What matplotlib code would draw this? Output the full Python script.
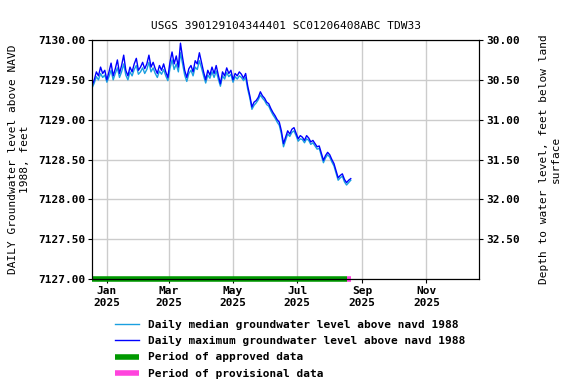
import numpy as np
import pandas as pd
import matplotlib
matplotlib.use("Agg")
import matplotlib.pyplot as plt
import matplotlib.dates as mdates

# data, every 2 days from 2024-12-18
start_date = "2024-12-18"
level_max = [
    7129.43, 7129.50, 7129.60, 7129.55, 7129.66, 7129.58, 7129.62, 7129.50,
    7129.60, 7129.71, 7129.55, 7129.64, 7129.75, 7129.58, 7129.68, 7129.81,
    7129.62, 7129.55, 7129.66, 7129.60, 7129.70, 7129.77, 7129.62, 7129.66,
    7129.72, 7129.64, 7129.70, 7129.81, 7129.66, 7129.72, 7129.64, 7129.58,
    7129.68, 7129.62, 7129.70, 7129.60, 7129.53, 7129.72, 7129.85, 7129.70,
    7129.80, 7129.66, 7129.96, 7129.78, 7129.62, 7129.53, 7129.64, 7129.68,
    7129.60, 7129.74, 7129.70, 7129.84, 7129.72, 7129.60, 7129.50, 7129.62,
    7129.56, 7129.66, 7129.58, 7129.68, 7129.56, 7129.45, 7129.60, 7129.55,
    7129.65, 7129.58, 7129.62, 7129.50, 7129.58, 7129.55, 7129.60, 7129.57,
    7129.52, 7129.58, 7129.42, 7129.30, 7129.16, 7129.22, 7129.24, 7129.28,
    7129.35, 7129.30, 7129.27, 7129.22, 7129.20, 7129.14, 7129.09, 7129.05,
    7129.00, 7128.97, 7128.86, 7128.70, 7128.78, 7128.86, 7128.82, 7128.88,
    7128.90, 7128.83, 7128.76, 7128.80, 7128.78, 7128.74, 7128.80, 7128.77,
    7128.72, 7128.74, 7128.70, 7128.66, 7128.67, 7128.58, 7128.49, 7128.55,
    7128.59, 7128.56, 7128.50, 7128.45, 7128.36, 7128.27, 7128.30, 7128.32,
    7128.25, 7128.21, 7128.24, 7128.26,
]
level_median = [
    7129.40, 7129.46, 7129.54, 7129.50, 7129.58, 7129.53, 7129.56, 7129.47,
    7129.54, 7129.62, 7129.50, 7129.58, 7129.65, 7129.53, 7129.60, 7129.70,
    7129.56, 7129.50, 7129.60, 7129.55, 7129.63, 7129.68, 7129.57, 7129.60,
    7129.65, 7129.58, 7129.63, 7129.72, 7129.60, 7129.65, 7129.58, 7129.53,
    7129.61, 7129.57, 7129.63, 7129.55, 7129.49, 7129.64, 7129.75, 7129.63,
    7129.70, 7129.60, 7129.84, 7129.70, 7129.56, 7129.48, 7129.58, 7129.62,
    7129.55, 7129.66, 7129.63, 7129.74, 7129.65, 7129.55, 7129.46, 7129.56,
    7129.52, 7129.60, 7129.53, 7129.61, 7129.51, 7129.42, 7129.55, 7129.51,
    7129.59, 7129.54, 7129.57, 7129.47, 7129.54, 7129.51, 7129.55, 7129.53,
    7129.49, 7129.53, 7129.38, 7129.27, 7129.13, 7129.18, 7129.21, 7129.25,
    7129.31, 7129.27, 7129.24, 7129.19, 7129.17, 7129.11, 7129.06, 7129.02,
    7128.97, 7128.93, 7128.82, 7128.66, 7128.74, 7128.82, 7128.79, 7128.84,
    7128.86, 7128.80, 7128.73, 7128.76, 7128.75, 7128.71, 7128.76, 7128.74,
    7128.69, 7128.71, 7128.67, 7128.63, 7128.64, 7128.55, 7128.46, 7128.52,
    7128.56, 7128.53, 7128.47, 7128.42, 7128.33, 7128.24, 7128.27, 7128.29,
    7128.22, 7128.18, 7128.21, 7128.24,
]
approved_period = ["2024-12-18", "2025-08-17"]
provisional_period = ["2025-08-17", "2025-08-21"]
land_surface = 7160.0  # depth = land_surface - level

dates = pd.date_range(start_date, periods=len(level_max), freq="2D")

plt.rcParams["font.family"] = ["DejaVu Sans Mono"]
plt.rcParams["font.weight"] = "bold"
plt.rcParams["font.size"] = 8

fig = plt.figure(figsize=(5.76, 3.84), dpi=100)
ax = fig.add_axes([0.16, 0.2734, 0.6716, 0.6224])

ax.plot(dates, level_median, color="#1a9fe0", lw=1, label="Daily median groundwater level above navd 1988")
ax.plot(dates, level_max, color="#0000ff", lw=1, label="Daily maximum groundwater level above navd 1988")
ax.plot(pd.to_datetime(approved_period), [7127, 7127], color="#009900", lw=4,
        solid_capstyle="butt", clip_on=False, label="Period of approved data")
ax.plot(pd.to_datetime(provisional_period), [7127, 7127], color="#ff44dd", lw=4,
        solid_capstyle="butt", clip_on=False, label="Period of provisional data")

ax.set_xlim(pd.Timestamp("2024-12-18"), pd.Timestamp("2025-12-21"))
ax.set_ylim(7127, 7130)
ax.set_yticks(np.arange(7127, 7130.01, 0.5))
ax.yaxis.set_major_formatter(matplotlib.ticker.FormatStrFormatter("%.2f"))
ax.xaxis.set_major_locator(mdates.MonthLocator(bymonth=[1, 3, 5, 7, 9, 11]))
ax.xaxis.set_major_formatter(mdates.DateFormatter("%b\n%Y"))
ax.grid(True, color="#cccccc", lw=1)
ax.tick_params(length=3, pad=2)
ax.set_ylabel("DAILY Groundwater level above NAVD\n1988, feet", labelpad=6)
ax.set_title("USGS 390129104344401 SC01206408ABC TDW33", fontsize=8, pad=8)

ax2 = ax.twinx()
ax2.set_ylim(land_surface - 7127, land_surface - 7130)
ax2.set_yticks(np.arange(30, 32.51, 0.5))
ax2.yaxis.set_major_formatter(matplotlib.ticker.FormatStrFormatter("%.2f"))
ax2.tick_params(length=3, pad=2)
ax2.set_ylabel("Depth to water level, feet below land\nsurface", labelpad=14)

handles, labels = ax.get_legend_handles_labels()
fig.legend(handles, labels, loc="upper left", bbox_to_anchor=(0.192, 0.178),
           frameon=False, handlelength=2.2, handletextpad=0.8, labelspacing=0.55,
           borderaxespad=0, fontsize=8)

fig.savefig("out.png", dpi=100)
